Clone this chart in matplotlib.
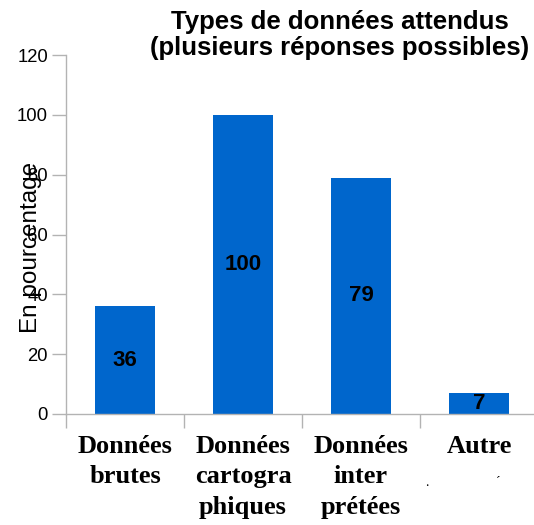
import matplotlib.pyplot as plt
import numpy as np

# chart data
categories = ["Données\nbrutes", "Données\ncartogra\nphiques", "Données\ninter\nprétées", "Autre"]
values = [36, 100, 79, 7]
y_ticks = [0, 20, 40, 60, 80, 100, 120]

BAR_COLOR = "#0066CC"
AXIS_GRAY = "#B3B3B3"

fig = plt.figure(figsize=(5.34, 5.25), dpi=100)
ax = fig.add_axes([66 / 534, 1 - 414 / 525, 472 / 534, 359 / 525])

x = np.arange(len(values))
bars = ax.bar(x, values, width=0.51, color=BAR_COLOR, zorder=2)

for xi, v in zip(x, values):
    ax.text(xi, v / 2, str(v), ha="center", va="center",
            fontsize=16, fontweight="bold", family="Liberation Sans",
            color="black", zorder=3)

ax.set_xlim(-0.5, len(values) - 0.5)
ax.set_ylim(0, 120)
ax.set_yticks(y_ticks)
ax.set_yticklabels([str(t) for t in y_ticks], family="Liberation Sans", fontsize=13.3)
ax.tick_params(axis="y", length=10, color=AXIS_GRAY, width=1, pad=3)

# category labels at centres, tick marks at boundaries
ax.set_xticks(x)
ax.set_xticklabels(categories, family="Liberation Serif", fontweight="bold",
                   fontsize=19, linespacing=1.42, va="top")
ax.tick_params(axis="x", length=0, pad=15)
ax.set_xticks(np.arange(len(values) + 1) - 0.5, minor=True)
ax.tick_params(axis="x", which="minor", length=10, color=AXIS_GRAY, width=1)

for side in ("top", "right"):
    ax.spines[side].set_visible(False)
for side in ("left", "bottom"):
    ax.spines[side].set_color(AXIS_GRAY)
    ax.spines[side].set_linewidth(1)

# stray marks under "Autre"
fig.text(425 / 534, 1 - 486 / 525, ".", fontsize=10, family="Liberation Serif")
fig.text(496 / 534, 1 - 486 / 525, "´", fontsize=10, family="Liberation Serif")

fig.text(31 / 534, 1 - 247 / 525, "En pourcentage", rotation=90,
         ha="center", va="center", fontsize=17.5, family="Liberation Sans")

fig.text(340 / 534, 1 - 35 / 525,
         "Types de données attendus\n(plusieurs réponses possibles)",
         ha="center", va="center", fontsize=18.5, fontweight="bold",
         family="Liberation Sans", linespacing=1.15)

fig.savefig("out.png", dpi=100)
